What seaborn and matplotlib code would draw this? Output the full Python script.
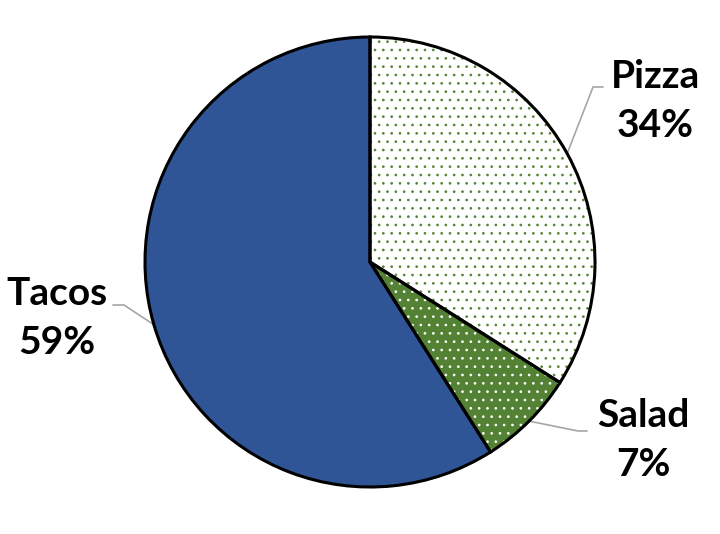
import numpy as np
import matplotlib
matplotlib.use("Agg")
from matplotlib import pyplot as plt
import seaborn as sns

categories = ["Pizza", "Salad", "Tacos"]
shares = [34, 7, 59]
face_colors = ["#FFFFFF", "#548235", "#2F5597"]
dot_colors = ["#548235", "#FFFFFF", None]

sns.set_theme(style="white")
plt.rcParams["font.family"] = ["Lato", "DejaVu Sans"]
plt.rcParams["hatch.linewidth"] = 0.7

fig = plt.figure(figsize=(7.2, 5.34), dpi=100)
ax = fig.add_axes([0, 0, 1, 1])

# center (370, 262) px, radius 225 px
cx, cy, r = 370, 262, 225

# fill + dots pass (hatch colour follows edgecolor)
wedges, _ = ax.pie(shares, startangle=90, counterclock=False, radius=1,
                   colors=face_colors,
                   wedgeprops={"linewidth": 0})
for w, dc in zip(wedges, dot_colors):
    if dc is not None:
        w.set_hatch("..")
        w.set_edgecolor(dc)

# outline pass
ax.pie(shares, startangle=90, counterclock=False, radius=1,
       colors=["none"] * len(shares),
       wedgeprops={"linewidth": 2.2, "edgecolor": "black", "fill": False})

ax.set_xlim((0 - cx) / r, (720 - cx) / r)
ax.set_ylim((cy - 534) / r, cy / r)
ax.set_aspect("equal")
ax.axis("off")


def px(x, y):
    return (x - cx) / r, (cy - y) / r


# label placement in pixel space: text center, elbow, end of short horizontal
label_pos = {"Pizza": (655, 101), "Salad": (643, 440), "Tacos": (57, 318)}
elbows = {"Pizza": ((593, 87), (603, 87)),
          "Salad": ((578, 431), (587, 431)),
          "Tacos": ((124, 305), (113, 305))}

for w, cat, s in zip(wedges, categories, shares):
    mid = np.deg2rad((w.theta1 + w.theta2) / 2)
    ex, ey = np.cos(mid), np.sin(mid)
    (e1, e2) = elbows[cat]
    p1 = px(*e1)
    p2 = px(*e2)
    ax.plot([ex, p1[0], p2[0]], [ey, p1[1], p2[1]], color="#A6A6A6",
            linewidth=1.2, zorder=0)
    tx, ty = px(*label_pos[cat])
    ax.text(tx, ty, f"{cat}\n{s}%", ha="center", va="center",
            fontsize=28, fontweight="bold", color="black", linespacing=1.45)

fig.savefig("out.png", dpi=100)
